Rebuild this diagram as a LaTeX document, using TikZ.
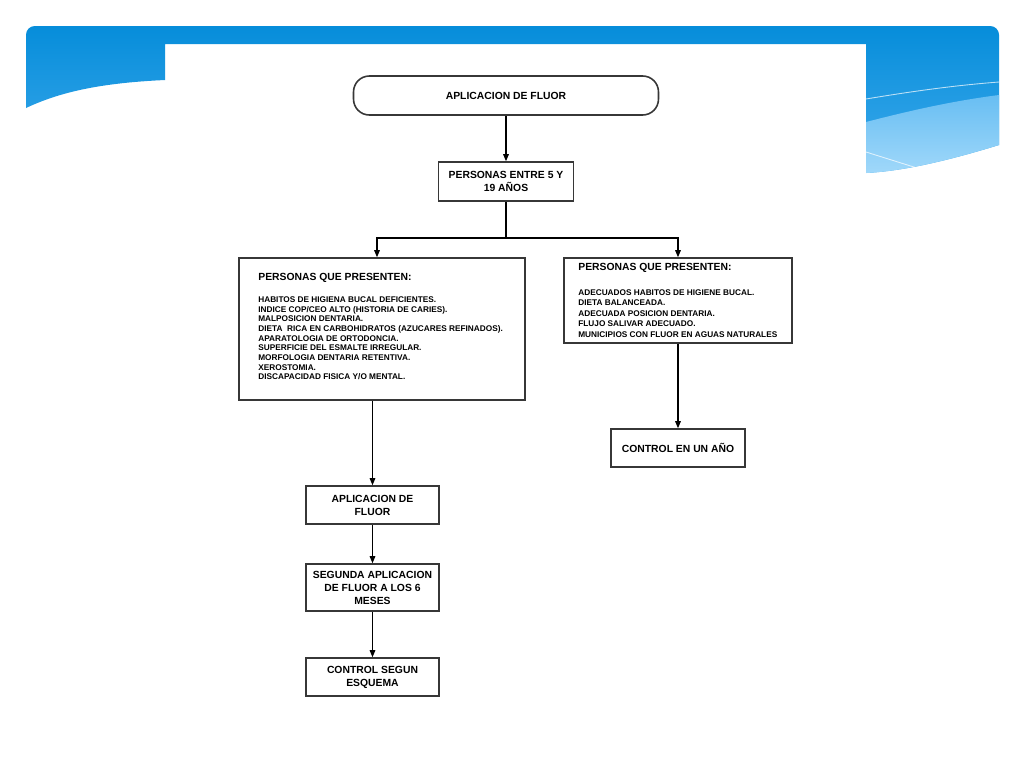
\documentclass[tikz,border=0pt]{standalone}
\usepackage{fontspec}
\setmainfont{Liberation Sans}
\usetikzlibrary{calc, positioning, arrows.meta}
\definecolor{barTop}{RGB}{6, 141, 218}
\definecolor{barBottom}{RGB}{62, 170, 236}
\definecolor{waveTop}{RGB}{104, 190, 242}
\definecolor{waveBottom}{RGB}{160, 216, 250}
\definecolor{boxLine}{RGB}{55, 55, 55}

\begin{document}
\begin{tikzpicture}[x=0.02cm, y=-0.02cm, >={Triangle[length=4pt, width=3.2pt]},
  font=\fontsize{5.9}{7.4}\selectfont\bfseries,
  stepbox/.style={draw=boxLine, line width=0.9pt, align=center, inner sep=0pt},
  listtext/.style={align=left, inner sep=0pt, anchor=north west},
  link/.style={->, line width=0.6pt}]
  \useasboundingbox[fill=white] (0, 0) rectangle (1024, 768);

  % slide background
  \shade[top color=barTop, bottom color=barBottom]
    (26, 108) [rounded corners=5pt] -- (26, 26) -- (999, 26) -- (999, 60) [sharp corners]
    -- (999, 145) .. controls (950, 160) and (905, 171) .. (866, 173)
    -- (866, 44) -- (165, 44) -- (165, 80)
    .. controls (100, 83) and (60, 92) .. (26, 108) -- cycle;
  \shade[top color=waveTop, bottom color=waveBottom]
    (866, 122) .. controls (920, 108) and (960, 100) .. (999, 95)
    -- (999, 145) .. controls (950, 160) and (905, 171) .. (866, 173) -- cycle;
  \draw[white, opacity=0.7, line width=0.5pt]
    (866, 99) .. controls (920, 90) and (960, 85) .. (999, 82);
  \draw[white, opacity=0.7, line width=0.5pt] (866, 152) -- (917, 168);

  % boxes
  \node[stepbox, rounded corners=9pt, minimum width=6.1cm, minimum height=0.78cm]
    (start) at (506, 95.5) {APLICACION DE FLUOR};
  \node[stepbox, minimum width=2.7cm, minimum height=0.78cm]
    (ages) at (506, 181.5) {PERSONAS ENTRE 5 Y\\19 AÑOS};
  \node[stepbox, minimum width=5.72cm, minimum height=2.84cm] (risk) at (382, 329) {};
  \node[stepbox, minimum width=4.56cm, minimum height=1.7cm] (good) at (678, 300.5) {};
  \node[stepbox, minimum width=2.66cm, minimum height=0.76cm]
    (apl) at (372.5, 505) {APLICACION DE\\FLUOR};
  \node[stepbox, minimum width=2.66cm, minimum height=0.94cm]
    (second) at (372.5, 587.5) {SEGUNDA APLICACION\\DE FLUOR A LOS 6\\MESES};
  \node[stepbox, minimum width=2.66cm, minimum height=0.76cm]
    (ctrl) at (372.5, 677) {CONTROL SEGUN\\ESQUEMA};
  \node[stepbox, minimum width=2.68cm, minimum height=0.76cm]
    (year) at (678, 448) {CONTROL EN UN AÑO};

  % box contents
  \node[listtext, font=\fontsize{4.7}{5.5}\selectfont\bfseries] (risktext) at (258, 273)
    {{\fontsize{5.9}{7}\selectfont PERSONAS QUE PRESENTEN:}\\[7pt]
     HABITOS DE HIGIENA BUCAL DEFICIENTES.\\
     INDICE COP/CEO ALTO (HISTORIA DE CARIES).\\
     MALPOSICION DENTARIA.\\
     DIETA\ \ RICA EN CARBOHIDRATOS (AZUCARES REFINADOS).\\
     APARATOLOGIA DE ORTODONCIA.\\
     SUPERFICIE DEL ESMALTE IRREGULAR.\\
     MORFOLOGIA DENTARIA RETENTIVA.\\
     XEROSTOMIA.\\
     DISCAPACIDAD FISICA Y/O MENTAL.};
  \node[listtext, font=\fontsize{4.7}{5.9}\selectfont\bfseries] (goodtext) at (578, 263)
    {{\fontsize{5.9}{7}\selectfont PERSONAS QUE PRESENTEN:}\\[8.3pt]
     ADECUADOS HABITOS DE HIGIENE BUCAL.\\
     DIETA BALANCEADA.\\
     ADECUADA POSICION DENTARIA.\\
     FLUJO SALIVAR ADECUADO.\\
     MUNICIPIOS CON FLUOR EN AGUAS NATURALES};

  % connectors
  \coordinate (fork) at (506, 238);
  \draw[link] (start) -- (ages);
  \draw[line width=0.6pt] (ages) -- (fork);
  \draw[link] (fork) -| ($(risk.north)+(-5, 0)$);
  \draw[link] (fork) -| (good.north);
  \draw[link] (risk.south -| apl.north) -- (apl);
  \draw[link] (apl) -- (second);
  \draw[link] (second) -- (ctrl);
  \draw[link] (good) -- (year);
\end{tikzpicture}
\end{document}
